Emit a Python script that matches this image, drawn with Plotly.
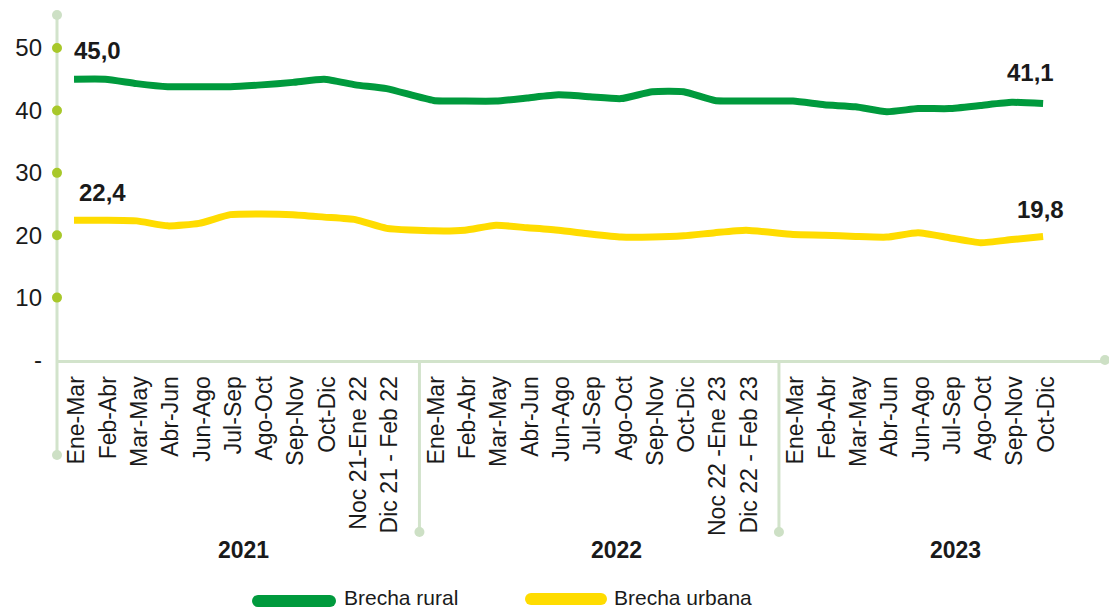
import plotly.graph_objects as go

# ---------------- data ----------------
years = ["2021", "2022", "2023"]
labels_2021 = ["Ene-Mar", "Feb-Abr", "Mar-May", "Abr-Jun", "Jun-Ago", "Jul-Sep", "Ago-Oct",
               "Sep-Nov", "Oct-Dic", "Noc 21-Ene 22", "Dic 21 - Feb 22"]
labels_2022 = ["Ene-Mar", "Feb-Abr", "Mar-May", "Abr-Jun", "Jun-Ago", "Jul-Sep", "Ago-Oct",
               "Sep-Nov", "Oct-Dic", "Noc 22 -Ene 23", "Dic 22 - Feb 23"]
labels_2023 = ["Ene-Mar", "Feb-Abr", "Mar-May", "Abr-Jun", "Jun-Ago", "Jul-Sep", "Ago-Oct",
               "Sep-Nov", "Oct-Dic"]

rural_2021 = [45.0, 45.0, 44.3, 43.8, 43.8, 43.8, 44.1, 44.5, 45.0, 44.1, 43.5]
rural_2022 = [41.6, 41.5, 41.5, 42.0, 42.5, 42.2, 41.9, 43.0, 43.0, 41.6, 41.5]
rural_2023 = [41.5, 40.9, 40.6, 39.8, 40.3, 40.3, 40.8, 41.3, 41.1]

urban_2021 = [22.4, 22.4, 22.3, 21.5, 21.9, 23.3, 23.4, 23.3, 22.9, 22.5, 21.1]
urban_2022 = [20.7, 20.8, 21.6, 21.2, 20.8, 20.2, 19.7, 19.7, 19.9, 20.4, 20.8]
urban_2023 = [20.1, 20.0, 19.8, 19.7, 20.4, 19.6, 18.8, 19.3, 19.8]

y_tick_vals = [0, 10, 20, 30, 40, 50]
y_tick_text = ["-", "10", "20", "30", "40", "50"]

series_names = ["Brecha rural", "Brecha urbana"]

# ---------------- styling ----------------
GREEN = "#009a3d"
YELLOW = "#ffdc00"
AXIS = "#d2e3cb"
ENDDOT = "#cde0c5"
TICKDOT = "#a8c82a"
TXT = "#1a1a1a"
FONT = "Liberation Sans, Arial, sans-serif"

W, H = 1109, 611
ML, MR, MT, MB = 57, 4, 15, 251
PW, PH = W - ML - MR, H - MT - MB
X_RANGE = [-0.544, 32.98]
Y_RANGE = [0, 55.3]

# positions: categories within a year are consecutive, with an extra half step between years
blocks = [labels_2021, labels_2022, labels_2023]
positions, tick_text, block_pos = [], [], []
idx = 0
for b, labs in enumerate(blocks):
    bp = []
    for lab in labs:
        p = idx + 0.5 * b
        positions.append(p)
        bp.append(p)
        tick_text.append(lab)
        idx += 1
    block_pos.append(bp)

rural = rural_2021 + rural_2022 + rural_2023
urban = urban_2021 + urban_2022 + urban_2023


def px2paperx(px):
    return (px - ML) / PW


def px2papery(py):
    return (H - MB - py) / PH


fig = go.Figure()
fig.add_trace(go.Scatter(x=positions, y=rural, mode="lines", name=series_names[0],
                         line=dict(color=GREEN, width=7, shape="spline", smoothing=0.5),
                         showlegend=False, cliponaxis=False))
fig.add_trace(go.Scatter(x=positions, y=urban, mode="lines", name=series_names[1],
                         line=dict(color=YELLOW, width=7, shape="spline", smoothing=0.5),
                         showlegend=False, cliponaxis=False))

shapes = []
# y axis line (extends below plot)
y_bottom = px2papery(455)
shapes.append(dict(type="line", xref="paper", yref="paper", x0=0, x1=0, y0=1, y1=y_bottom,
                   line=dict(color=AXIS, width=3), layer="below"))


def dot_paper(xp, yp, r, color):
    rx = r / PW
    ry = r / PH
    return dict(type="circle", xref="paper", yref="paper", x0=xp - rx, x1=xp + rx,
                y0=yp - ry, y1=yp + ry, fillcolor=color, line=dict(width=0))


shapes.append(dot_paper(0, 1, 5, ENDDOT))
shapes.append(dot_paper(0, y_bottom, 5, ENDDOT))
shapes.append(dot_paper(1, 0, 5, ENDDOT))

# year separators
sep_bottom = px2papery(532)
for b in range(1, len(blocks)):
    sx = (block_pos[b - 1][-1] + block_pos[b][0]) / 2 + 0.3
    shapes.append(dict(type="line", xref="x", yref="paper", x0=sx, x1=sx, y0=0, y1=sep_bottom,
                       line=dict(color=AXIS, width=3), layer="below"))
    shapes.append(dict(type="circle", xref="x", yref="paper", xsizemode="pixel", xanchor=sx,
                       x0=-5, x1=5, y0=sep_bottom - 5 / PH, y1=sep_bottom + 5 / PH,
                       fillcolor=ENDDOT, line=dict(width=0)))

# y tick dots
for v in y_tick_vals[1:]:
    shapes.append(dict(type="circle", xref="paper", yref="y", ysizemode="pixel", yanchor=v,
                       x0=-5 / PW, x1=5 / PW, y0=-5, y1=5, fillcolor=TICKDOT, line=dict(width=0)))

# custom legend
legend_items = [
    (series_names[0], GREEN, 258, 330, 601, 342, 597),
    (series_names[1], YELLOW, 531, 601, 599, 612, 597),
]
annotations = []
for name, col, lx0, lx1, ly, tx, ty in legend_items:
    shapes.append(dict(type="line", xref="paper", yref="paper", x0=px2paperx(lx0), x1=px2paperx(lx1),
                       y0=px2papery(ly), y1=px2papery(ly), line=dict(color=col, width=12)))
    for cx in (lx0, lx1):
        shapes.append(dot_paper(px2paperx(cx), px2papery(ly), 6, col))
    annotations.append(dict(xref="paper", yref="paper", x=px2paperx(tx), y=px2papery(ty),
                            text=name, showarrow=False, xanchor="left", yanchor="middle",
                            font=dict(family=FONT, size=21, color=TXT)))


def fmt(v):
    return f"{v:.1f}".replace(".", ",")


# data labels
annotations += [
    dict(x=positions[0], y=rural[0], text=f"<b>{fmt(rural[0])}</b>", showarrow=False,
         xanchor="left", yanchor="middle", xshift=-2, yshift=29,
         font=dict(family=FONT, size=24, color=TXT)),
    dict(x=positions[0], y=urban[0], text=f"<b>{fmt(urban[0])}</b>", showarrow=False,
         xanchor="left", yanchor="middle", xshift=3, yshift=28,
         font=dict(family=FONT, size=24, color=TXT)),
    dict(x=positions[-1], y=rural[-1], text=f"<b>{fmt(rural[-1])}</b>", showarrow=False,
         xanchor="center", yanchor="middle", xshift=-13, yshift=31,
         font=dict(family=FONT, size=24, color=TXT)),
    dict(x=positions[-1], y=urban[-1], text=f"<b>{fmt(urban[-1])}</b>", showarrow=False,
         xanchor="center", yanchor="middle", xshift=-3, yshift=27,
         font=dict(family=FONT, size=24, color=TXT)),
]

# year labels
year_shift = [13, 27, 37]
for b, yr in enumerate(years):
    cx = (block_pos[b][0] + block_pos[b][-1]) / 2
    annotations.append(dict(x=cx, y=px2papery(550), xref="x", yref="paper", text=f"<b>{yr}</b>",
                            showarrow=False, xanchor="center", yanchor="middle", xshift=year_shift[b],
                            font=dict(family=FONT, size=23, color=TXT)))

fig.update_layout(
    width=W, height=H,
    margin=dict(l=ML, r=MR, t=MT, b=MB),
    paper_bgcolor="white", plot_bgcolor="white",
    showlegend=False,
    shapes=shapes,
    annotations=annotations,
    xaxis=dict(range=X_RANGE, tickvals=positions, ticktext=tick_text, tickangle=-90,
               showgrid=False, zeroline=False, showline=True, linecolor=AXIS, linewidth=3,
               ticks="", ticklabelstandoff=4, ticklabelshift=3,
               tickfont=dict(family=FONT, size=23, color=TXT)),
    yaxis=dict(range=Y_RANGE, tickvals=y_tick_vals, ticktext=y_tick_text,
               showgrid=False, zeroline=False, showline=False, ticks="",
               ticklabelstandoff=14,
               tickfont=dict(family=FONT, size=24, color=TXT)),
)

fig.write_html("out.html", config={"displayModeBar": False},
               post_script="document.body.style.margin='0';document.body.style.overflow='hidden';")
